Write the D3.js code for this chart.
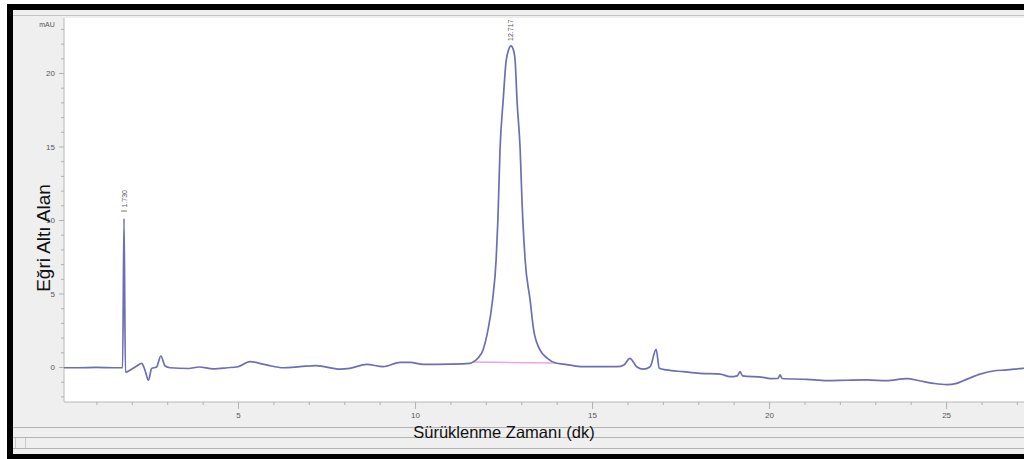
<!DOCTYPE html>
<html>
<head>
<meta charset="utf-8">
<script src="https://cdn.jsdelivr.net/npm/d3@7"></script>
<style>
  html, body { margin: 0; padding: 0; background: #fff; }
  svg { display: block; }
</style>
</head>
<body>
<svg id="chart" width="1024" height="459"></svg>
<script>
// ---- data ----
const times = [0.05, 0.5, 1.0, 1.5, 1.74, 1.78, 1.82, 1.96, 2.14, 2.28, 2.37, 2.47, 2.56, 2.70, 2.82, 2.94, 3.08,
  3.6, 3.9, 4.3, 4.7, 5.0, 5.34, 5.8, 6.28, 6.75, 7.2, 7.88, 8.16, 8.63, 9.1, 9.58, 9.86, 10.23, 10.99, 11.55,
  11.64, 11.78, 11.92, 12.06, 12.19, 12.29, 12.34, 12.40, 12.49, 12.57, 12.64, 12.71, 12.78, 12.83, 12.88, 12.97,
  13.02, 13.11, 13.25, 13.35, 13.53, 13.73, 13.98, 14.2, 14.75, 15.7, 15.9, 16.07, 16.26, 16.45, 16.64, 16.81, 16.9,
  17.1, 17.58, 18.05, 18.62, 18.9, 19.1, 19.18, 19.25, 19.83, 20.03, 20.25, 20.31, 20.37, 21.06, 21.63, 22.2, 22.76,
  23.32, 23.89, 24.27, 24.64, 25.02, 25.3, 25.58, 25.96, 26.33, 26.71, 27.17, 27.4];
const signal = [-0.05, -0.05, -0.03, -0.05, -0.05, 10.1, -0.35, -0.2, 0.07, 0.25, -0.2, -0.9, -0.1, 0.0, 0.75, 0.07, -0.05,
  -0.1, 0.0, -0.12, -0.05, 0.02, 0.36, 0.14, -0.05, 0.02, 0.1, -0.14, -0.09, 0.18, 0.02, 0.32, 0.32, 0.18, 0.2, 0.25,
  0.34, 0.61, 1.16, 2.52, 4.56, 7.28, 10.0, 14.76, 18.16, 20.75, 21.56, 21.84, 21.56, 20.75, 18.16, 14.76,
  11.36, 7.28, 4.56, 2.52, 1.16, 0.61, 0.27, 0.2, 0.02, 0.02, 0.14, 0.59, 0.02, -0.14, 0.02, 1.2, -0.09,
  -0.2, -0.32, -0.43, -0.48, -0.66, -0.6, -0.32, -0.6, -0.7, -0.79, -0.78, -0.54, -0.78, -0.84, -0.93, -0.9, -0.88,
  -0.93, -0.79, -0.95, -1.11, -1.2, -1.11, -0.84, -0.48, -0.27, -0.2, -0.09, -0.05];
const peakTimes = [1.78, 12.71];
const peakHeights = [10.1, 21.84];
const peakLabels = ["1.730", "12.717"];
const baseTimes = [11.64, 13.98];
const baseValues = [0.34, 0.27];
const xTickValues = [5, 10, 15, 20, 25];
const yTickValues = [0, 5, 10, 15, 20];
const yUnit = "mAU";
const xTitle = "Sürüklenme Zamanı (dk)";
const yTitle = "Eğri Altı Alan";

// ---- drawing ----
const svg = d3.select("#chart");
const W = 1024, H = 459;
const plot = { left: 64, top: 18, right: 1030, bottom: 402 };

const x = d3.scaleLinear().domain([0, 27.37]).range([61, 1030]);
const y = d3.scaleLinear().domain([-2.38, 23.74]).range([plot.bottom, plot.top]);

// frame
svg.append("rect").attr("x", 0).attr("y", 0).attr("width", W).attr("height", H).attr("fill", "#ffffff");
svg.append("rect").attr("x", 7).attr("y", 4).attr("width", W).attr("height", H).attr("fill", "#000");
svg.append("rect").attr("x", 13).attr("y", 10).attr("width", W).attr("height", 444).attr("fill", "#efefef");
svg.append("line").attr("x1", 13).attr("x2", W).attr("y1", 15.5).attr("y2", 15.5).attr("stroke", "#c4c4c4");
[427.5, 437.5, 448.5].forEach(yy => {
  svg.append("line").attr("x1", 13).attr("x2", W).attr("y1", yy).attr("y2", yy).attr("stroke", "#b4b4b4");
});
[15.5, 25.5].forEach(xx => {
  svg.append("line").attr("x1", xx).attr("x2", xx).attr("y1", 438).attr("y2", 448).attr("stroke", "#c8c8c8");
});

// plot area
svg.append("rect").attr("x", plot.left).attr("y", plot.top)
  .attr("width", plot.right - plot.left).attr("height", plot.bottom - plot.top).attr("fill", "#fff");

const clip = svg.append("defs").append("clipPath").attr("id", "pc");
clip.append("rect").attr("x", plot.left).attr("y", plot.top - 2)
  .attr("width", plot.right - plot.left).attr("height", plot.bottom - plot.top + 2);

// axes
const yMinor = d3.range(-2, 24, 1);
const yAxis = d3.axisLeft(y).tickValues(yMinor).tickSize(3)
  .tickFormat(d => yTickValues.includes(d) ? String(d) : "");
const gy = svg.append("g").attr("transform", `translate(${plot.left},0)`).call(yAxis);
gy.select(".domain").attr("stroke", "#b8b8b8");
gy.selectAll(".tick line").attr("stroke", "#b0b0b0").attr("x2", d => yTickValues.includes(d) ? -5 : -3);
gy.selectAll(".tick text").attr("font-family", "Liberation Sans, Arial, sans-serif").attr("font-size", 8)
  .attr("fill", "#555").attr("x", -9);
gy.select(".domain").attr("d", `M0,${plot.bottom}V${plot.top}`);

const xMinor = d3.range(1, 28, 1);
const xAxis = d3.axisBottom(x).tickValues(xMinor).tickSize(3)
  .tickFormat(d => xTickValues.includes(d) ? String(d) : "");
const gx = svg.append("g").attr("transform", `translate(0,${plot.bottom})`).call(xAxis);
gx.select(".domain").attr("stroke", "#b8b8b8").attr("d", `M${plot.left},0H${W}`);
gx.selectAll(".tick line").attr("stroke", "#b0b0b0").attr("y2", d => xTickValues.includes(d) ? 7 : 3);
gx.selectAll(".tick text").attr("font-family", "Liberation Sans, Arial, sans-serif").attr("font-size", 8)
  .attr("fill", "#555").attr("y", 10);

svg.append("text").attr("x", 47).attr("y", 27).attr("text-anchor", "middle")
  .attr("font-family", "Liberation Sans, Arial, sans-serif").attr("font-size", 7).attr("fill", "#555").text(yUnit);

// signal
const pts = times.map((t, i) => [t, signal[i]]);
const line = d3.line().x(d => x(d[0])).y(d => y(d[1])).curve(d3.curveMonotoneX);
const g = svg.append("g").attr("clip-path", "url(#pc)");

// pink baseline of the integrated peak
g.append("path").datum(baseTimes.map((t, i) => [t, baseValues[i]]))
  .attr("d", d3.line().x(d => x(d[0])).y(d => y(d[1])))
  .attr("fill", "none").attr("stroke", "#e8a6e4").attr("stroke-width", 1.5);

g.append("path").datum(pts).attr("d", line)
  .attr("fill", "none").attr("stroke", "#6e6eb4").attr("stroke-width", 1.7)
  .attr("stroke-linejoin", "round");

// peak labels (rotated)
peakTimes.forEach((t, i) => {
  const px = x(t), py = y(peakHeights[i]) - (i === 0 ? 11 : 5);
  svg.append("text").attr("transform", `translate(${px + 2.5},${py}) rotate(-90)`)
    .attr("font-family", "Liberation Sans, Arial, sans-serif").attr("font-size", 7).attr("fill", "#555")
    .text(peakLabels[i]);
  if (i === 0) {
    svg.append("line").attr("x1", px - 3).attr("x2", px + 3).attr("y1", py + 3.5).attr("y2", py + 3.5)
      .attr("stroke", "#777").attr("stroke-width", 1);
  }
});

// titles
svg.append("text").attr("x", 504).attr("y", 438).attr("text-anchor", "middle")
  .attr("font-family", "Liberation Sans, Arial, sans-serif").attr("font-size", 16.5).attr("fill", "#111")
  .text(xTitle);
svg.append("text").attr("transform", "translate(50,238) rotate(-90)").attr("text-anchor", "middle")
  .attr("font-family", "Liberation Sans, Arial, sans-serif").attr("font-size", 19).attr("fill", "#111")
  .text(yTitle);
</script>
</body>
</html>
